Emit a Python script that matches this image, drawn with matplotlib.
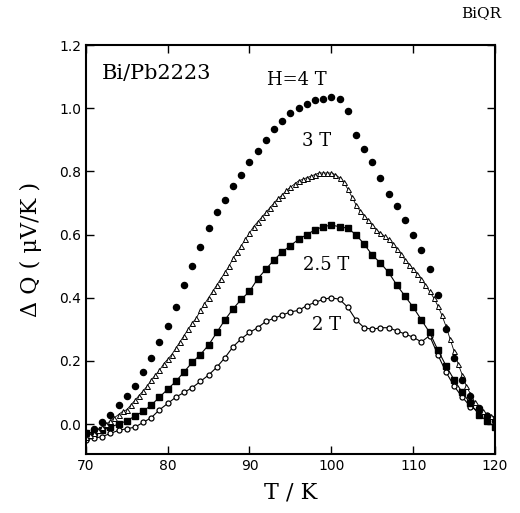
import matplotlib
matplotlib.use("Agg")
import matplotlib.pyplot as plt

# ---- data ----
T_4 = [70, 71, 72, 73, 74, 75, 76, 77, 78, 79, 80, 81, 82, 83, 84, 85, 86, 87, 88, 89,
       90, 91, 92, 93, 94, 95, 96, 97, 98, 99, 100, 101, 102, 103, 104, 105, 106, 107, 108, 109,
       110, 111, 112, 113, 114, 115, 116, 117, 118, 119, 120]
Q_4 = [-0.03, -0.015, 0.005, 0.03, 0.06, 0.09, 0.12, 0.165, 0.21, 0.26, 0.31, 0.37, 0.44, 0.50, 0.56,
       0.62, 0.67, 0.71, 0.755, 0.79, 0.83, 0.865, 0.90, 0.935, 0.96, 0.985, 1.0, 1.015, 1.025, 1.03,
       1.035, 1.03, 0.99, 0.915, 0.87, 0.83, 0.78, 0.73, 0.69, 0.645, 0.60, 0.55, 0.49, 0.41, 0.30,
       0.21, 0.14, 0.09, 0.05, 0.025, 0.01]

T_3 = [70, 70.5, 71, 71.5, 72, 72.5, 73, 73.5, 74, 74.5, 75, 75.5, 76, 76.5, 77, 77.5, 78, 78.5, 79, 79.5,
       80, 80.5, 81, 81.5, 82, 82.5, 83, 83.5, 84, 84.5, 85, 85.5, 86, 86.5, 87, 87.5, 88, 88.5, 89, 89.5,
       90, 90.5, 91, 91.5, 92, 92.5, 93, 93.5, 94, 94.5, 95, 95.5, 96, 96.5, 97, 97.5, 98, 98.5, 99, 99.5,
       100, 100.5, 101, 101.5, 102, 102.5, 103, 103.5, 104, 104.5, 105, 105.5, 106, 106.5, 107, 107.5,
       108, 108.5, 109, 109.5, 110, 110.5, 111, 111.5, 112, 112.5, 113, 113.5, 114, 114.5, 115, 115.5,
       116, 116.5, 117, 117.5, 118, 118.5, 119, 119.5, 120]
Q_3 = [-0.04, -0.035, -0.03, -0.02, -0.01, 0.0, 0.01, 0.02, 0.03, 0.04, 0.045, 0.06, 0.075, 0.09, 0.105,
       0.12, 0.14, 0.155, 0.17, 0.19, 0.205, 0.22, 0.24, 0.26, 0.28, 0.30, 0.32, 0.335, 0.36, 0.38, 0.40,
       0.42, 0.44, 0.46, 0.48, 0.50, 0.525, 0.545, 0.565, 0.585, 0.605, 0.625, 0.64, 0.655, 0.67, 0.685,
       0.70, 0.715, 0.725, 0.74, 0.75, 0.76, 0.77, 0.775, 0.78, 0.785, 0.79, 0.795, 0.795, 0.795, 0.795,
       0.79, 0.78, 0.765, 0.745, 0.72, 0.695, 0.675, 0.66, 0.645, 0.63, 0.615, 0.605, 0.595, 0.585, 0.57,
       0.555, 0.54, 0.52, 0.505, 0.49, 0.475, 0.46, 0.44, 0.42, 0.40, 0.375, 0.345, 0.31, 0.27, 0.23,
       0.19, 0.155, 0.12, 0.095, 0.07, 0.05, 0.04, 0.03, 0.025, 0.02]

T_25 = [70, 71, 72, 73, 74, 75, 76, 77, 78, 79, 80, 81, 82, 83, 84, 85, 86, 87, 88, 89,
        90, 91, 92, 93, 94, 95, 96, 97, 98, 99, 100, 101, 102, 103, 104, 105, 106, 107, 108, 109,
        110, 111, 112, 113, 114, 115, 116, 117, 118, 119, 120]
Q_25 = [-0.03, -0.025, -0.02, -0.01, 0.0, 0.01, 0.025, 0.04, 0.06, 0.085, 0.11, 0.135, 0.165, 0.195,
        0.22, 0.25, 0.29, 0.33, 0.365, 0.395, 0.42, 0.46, 0.49, 0.52, 0.545, 0.565, 0.585, 0.60, 0.615,
        0.625, 0.63, 0.625, 0.62, 0.60, 0.57, 0.535, 0.51, 0.48, 0.44, 0.405, 0.37, 0.33, 0.29, 0.235,
        0.185, 0.14, 0.10, 0.065, 0.03, 0.01, -0.01]

T_2 = [70, 71, 72, 73, 74, 75, 76, 77, 78, 79, 80, 81, 82, 83, 84, 85, 86, 87, 88, 89,
       90, 91, 92, 93, 94, 95, 96, 97, 98, 99, 100, 101, 102, 103, 104, 105, 106, 107, 108, 109,
       110, 111, 112, 113, 114, 115, 116, 117, 118, 119, 120]
Q_2 = [-0.05, -0.045, -0.04, -0.03, -0.02, -0.015, -0.01, 0.005, 0.02, 0.045, 0.065, 0.085, 0.10,
       0.115, 0.135, 0.155, 0.18, 0.21, 0.245, 0.27, 0.29, 0.305, 0.325, 0.335, 0.345, 0.355, 0.36,
       0.375, 0.385, 0.395, 0.40, 0.395, 0.37, 0.33, 0.305, 0.30, 0.305, 0.305, 0.295, 0.285, 0.275,
       0.26, 0.28, 0.22, 0.165, 0.12, 0.085, 0.055, 0.04, 0.03, 0.02]

x_ticks = [70, 80, 90, 100, 110, 120]
y_ticks = [0.0, 0.2, 0.4, 0.6, 0.8, 1.0, 1.2]

serif = "DejaVu Serif"

fig = plt.figure(figsize=(5.2, 5.13), dpi=100)
ax = fig.add_axes([0.165, 0.115, 0.787, 0.797])

ax.plot(T_2, Q_2, color="black", lw=0.8, marker="o", ms=3.6, mfc="white", mec="black", mew=0.9)
ax.plot(T_25, Q_25, color="black", lw=0.8, marker="s", ms=4.2, mfc="black", mec="black")
ax.plot(T_3, Q_3, color="black", lw=0.6, marker="^", ms=3.6, mfc="white", mec="black", mew=0.7)
ax.plot(T_4, Q_4, color="black", lw=0, marker="o", ms=4.4, mfc="black", mec="black")

ax.set_xlim(70, 120)
ax.set_ylim(-0.095, 1.2)
ax.set_xticks(x_ticks)
ax.set_yticks(y_ticks)
ax.set_xticklabels([str(v) for v in x_ticks])
ax.set_yticklabels([f"{v:.1f}" for v in y_ticks])
ax.tick_params(direction="in", length=6, width=1, top=True, right=True, labelsize=10)
for s in ax.spines.values():
    s.set_linewidth(1.5)

ax.set_xlabel("T / K", fontsize=16, family=serif, labelpad=6)
ax.set_ylabel("Δ Q ( μV/K )", fontsize=16, family=serif, labelpad=12)

ax.text(0.04, 0.955, "Bi/Pb2223", transform=ax.transAxes, fontsize=15, family=serif,
        ha="left", va="top")
ax.text(95.8, 1.09, "H=4 T", fontsize=13, family=serif, ha="center", va="center")
ax.text(98.2, 0.895, "3 T", fontsize=13, family=serif, ha="center", va="center")
ax.text(99.4, 0.505, "2.5 T", fontsize=13, family=serif, ha="center", va="center")
ax.text(99.4, 0.315, "2 T", fontsize=13, family=serif, ha="center", va="center")

fig.text(0.925, 0.975, "BiQR", fontsize=11, family=serif, ha="center", va="center")

fig.savefig("out.png", dpi=100)
